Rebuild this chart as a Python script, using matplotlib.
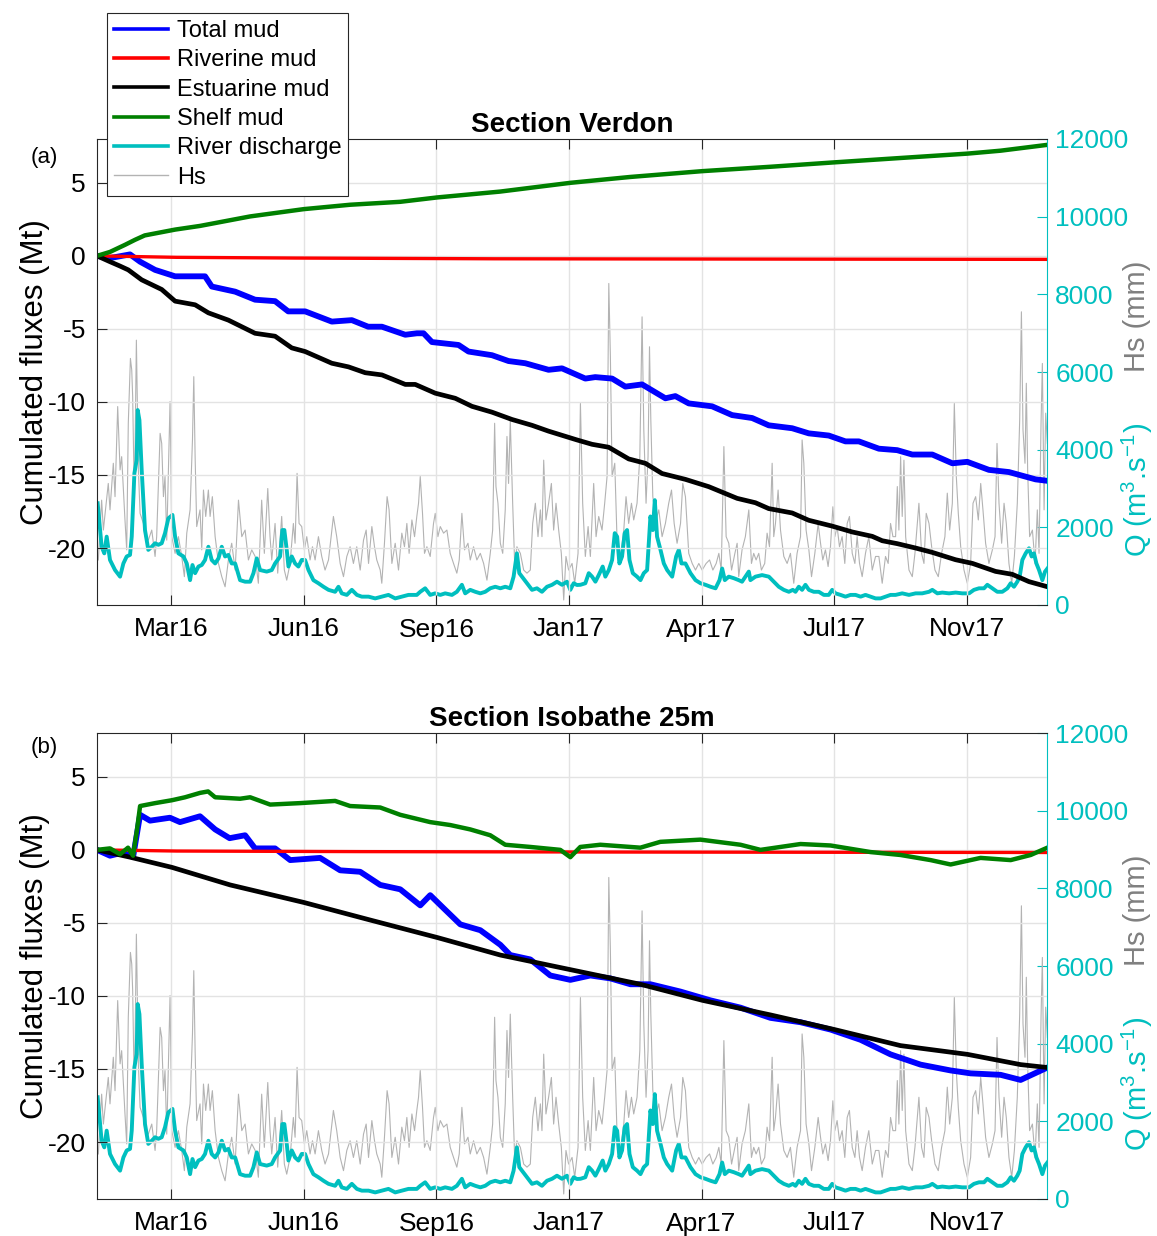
import numpy as np
import matplotlib
matplotlib.use("Agg")
import matplotlib.pyplot as plt
import matplotlib.dates as mdates
from matplotlib.lines import Line2D

plt.rcParams['font.family'] = ['Liberation Sans', 'DejaVu Sans']
plt.rcParams['mathtext.default'] = 'regular'
plt.rcParams['axes.unicode_minus'] = False

# ---------------- data (days since 2016-01-15) ----------------
START = np.datetime64('2016-01-15')
END_DAY = 716.5
TICK_DATES = ['2016-03-11', '2016-06-19', '2016-09-27', '2017-01-05',
              '2017-04-15', '2017-07-24', '2017-11-01']

# significant wave height (mm), shared by both panels
HS_DAY = [1.0, 3.5, 4.8, 8.5, 9.8, 12.3, 13.6, 15.6, 17.4, 18.6, 21.1, 22.4, 23.6, 25.2, 26.2, 26.9,
          28.2, 29.7, 31.2, 32.5, 35.0, 36.2, 38.7, 41.3, 43.8, 45.0, 47.6, 48.8, 50.1, 51.3, 52.6,
          55.1, 56.4, 58.9, 61.4, 63.9, 65.9, 67.7, 70.2, 72.0, 73.0, 74.0, 75.2, 77.7, 79.0, 80.3,
          82.0, 84.0, 85.3, 87.0, 89.1, 91.6, 94.1, 96.6, 99.1, 101.6, 104.2, 106.7, 109.2, 111.7,
          114.2, 116.7, 119.3,
          121.7, 124.2, 126.2, 128.8, 130.5, 131.8, 134.3, 136.3, 139.3, 141.3, 143.1, 145.6, 148.1,
          149.4, 150.9, 152.4, 154.4, 156.4, 158.2, 160.7, 162.5, 164.5, 167.0, 169.5, 172.0, 174.6,
          176.6, 178.3, 180.8, 183.4, 185.9, 188.4, 190.9, 193.4, 195.9, 198.5, 201.0, 203.0, 204.8,
          207.3, 209.3, 211.0, 213.6, 214.8, 216.8, 218.8, 220.3, 222.4, 224.9, 227.4, 229.9, 231.9,
          233.7, 235.4, 237.5, 239.5, 241.2,
          242.5, 243.8, 245.5, 247.0, 248.8, 251.3, 253.8, 255.1, 257.1, 258.9, 261.4, 263.9, 266.4,
          268.9, 271.4, 273.2, 275.2, 277.2, 279.8, 281.5, 284.0, 286.5, 289.1, 291.6, 294.1, 296.6,
          298.4, 299.9, 300.9, 302.4, 304.2, 306.0, 307.9, 309.2, 310.4, 311.7, 313.5, 315.0, 316.7,
          319.3, 321.8, 324.3, 326.8, 328.6, 330.6, 332.6, 334.4, 335.6, 336.9, 338.6, 340.6, 342.7,
          344.4, 346.2, 348.2, 350.2, 352.0, 353.7, 355.7, 358.3, 360.3,
          362.8, 364.6, 366.3, 368.3, 370.4, 372.1, 374.6, 376.4, 378.4, 380.9, 382.9, 384.7, 386.0,
          387.2, 388.5, 390.5, 392.3, 394.8, 397.3, 399.0, 401.0, 403.1, 404.8, 407.3, 409.4, 411.1,
          412.4, 414.1, 415.6, 416.7, 417.7, 419.2, 421.7, 423.7, 426.2, 428.7, 431.2, 433.3, 435.3,
          437.5, 440.1, 441.8, 443.8, 446.3, 448.9, 451.4, 453.9, 456.4, 459.4, 462.0, 464.5, 467.0,
          469.0, 470.8, 472.8, 474.5, 476.5, 478.6, 481.1, 482.8,
          484.0, 486.5, 489.0, 491.6, 493.6, 495.3, 497.1, 499.1, 501.1, 503.6, 505.4, 507.2, 509.2,
          510.4, 511.7, 513.7, 515.5, 518.0, 520.5, 523.0, 525.5, 528.0, 530.6, 531.8, 533.1, 534.8,
          536.9, 538.9, 541.4, 543.9, 545.7, 547.4, 549.4, 551.4, 553.2, 555.0, 556.5, 558.2, 560.0,
          562.0, 564.0, 565.8, 567.5, 569.6, 571.6, 573.3, 575.1, 577.1, 579.6, 582.1, 584.7, 587.2,
          589.7, 592.2, 594.7, 596.7, 598.5, 600.3,
          602.3, 603.6, 604.8, 606.1, 607.3, 608.6, 609.9, 612.4, 614.9, 616.9, 618.7, 619.9, 621.9,
          623.7, 625.4, 627.5, 629.5, 632.0, 634.5, 637.0, 639.5, 641.3, 643.1, 645.1, 646.6, 648.1,
          649.6, 651.4, 653.9, 656.4, 658.9, 660.7, 662.7, 664.7, 666.5, 668.2, 670.2, 672.7, 675.3,
          677.3, 678.8, 680.3, 682.3, 684.1, 685.8, 687.8, 689.9, 691.9, 694.1, 695.9, 697.2, 698.4,
          699.9, 700.9, 701.9, 703.4, 705.5, 707.5, 709.2, 710.5, 712.0, 713.0, 714.3, 715.5, 716.8]
HS_VAL = [1160, 2700, 1930, 3130, 2450, 3650, 2790, 5110, 3480, 3820, 2190, 1420, 4680, 6350, 6050, 5370,
          2620, 6820, 3480, 2360, 2100, 1760, 1670, 1930, 1250, 1760, 4420, 4160, 2790, 3310, 1670,
          5240, 1760, 1330, 1760, 1250, 730, 1850, 2450, 4250, 5880, 3820, 2020, 2450, 1420, 2960,
          2280, 2960, 2280, 2790, 1760, 1070, 730, 470, 1160, 1590, 900, 2700, 1760, 1930,
          1160, 1420, 1250,
          560, 2700, 1330, 3000, 1760, 1160, 2100, 820, 2280, 900, 640, 1070, 2100,
          1590, 3390, 2100, 2020, 1420, 1760, 1160, 1500, 1160, 1760, 1250, 900, 1160,
          1760, 2280, 1760, 1070, 730, 1250, 1500, 1070, 1500, 900, 1670, 1930, 1070,
          2020, 1500, 1160, 900, 560, 1590, 2790, 2450, 1070, 1590, 900, 1850, 1500,
          2100, 1330, 2190, 1760, 2280,
          2620, 3310, 2360, 1330, 1500, 1250, 2100, 2360, 1760, 2020, 1850, 1930, 1330,
          1070, 820, 1160, 2360, 1420, 1590, 1160, 1500, 1160, 1330, 1070, 640, 1330,
          1930, 4680, 3050, 2620, 1590, 1330, 2450, 4340, 3130, 4760, 2620, 1070, 1500,
          1330, 900, 820, 900, 2100, 2620, 1760, 2450, 1760, 3730, 2190, 2620, 3130,
          1930, 2620, 1930, 1330, 130, 1250, 900, 1070, 560,
          1330, 5190, 2620, 1250, 2020, 1250, 3130, 1760, 2280, 1930, 2620, 3310, 8280,
          6400, 3310, 3650, 1590, 1250, 1930, 2790, 2100, 2620, 2190, 2620, 3820, 7420,
          4510, 2620, 3820, 6650, 4760, 2790, 2190, 2450, 1760, 2100, 2620, 2960, 2100,
          1590, 2100, 3130, 2790, 1330, 1070, 900, 1070, 900, 1070, 1160, 900, 1070,
          1330, 900, 4080, 1760, 1590, 900, 1330, 1590,
          730, 1420, 1760, 2450, 1070, 1330, 1160, 1330, 900, 1070, 1850, 1500, 3650,
          1760, 2100, 2960, 1930, 1250, 1070, 1330, 560, 1330, 1760, 4250, 3650, 1930,
          1420, 730, 1330, 2100, 1590, 1160, 1420, 990, 1500, 2530, 1760, 2020, 1500,
          1760, 1070, 2100, 2280, 1330, 1070, 1760, 1070, 730, 1330, 1760, 900, 1250,
          1250, 560, 1250, 1070, 2100, 1760,
          1760, 3050, 1930, 3820, 2280, 3730, 1760, 900, 730, 1330, 2100, 2620, 1330,
          1070, 2360, 2100, 1500, 900, 730, 1330, 1760, 2880, 1930, 2620, 5190, 3310,
          2360, 1500, 900, 560, 1070, 2620, 2790, 2190, 3130, 2450, 1590, 1070, 1420,
          1760, 4160, 2620, 1590, 2620, 2100, 1070, 560, 1250, 2620, 4760, 7550, 4510,
          3650, 5710, 3480, 1760, 1930, 1070, 2450, 1330, 4680, 6220, 2450, 4940, 4160]

# river discharge (m3/s), shared by both panels
Q_DAY = [0.5, 3.5, 5.5, 7.3, 9.8, 13.6, 17.4, 19.9, 22.4, 24.9, 26.2, 28.2, 29.9, 30.7, 32.0, 33.7,
         36.2, 38.7, 41.3, 43.8, 46.3, 48.8, 51.3, 53.8, 56.9, 58.9, 61.4, 65.2, 67.7, 70.2, 72.0,
         74.0, 76.5, 79.0, 81.5, 84.0, 86.5, 89.1, 91.6, 94.1, 96.6, 99.1, 101.6, 104.2, 107.9,
         111.7, 115.5, 118.0, 120.5, 123.0, 128.0, 131.8, 134.3, 138.1, 139.8, 141.3, 143.1, 144.4,
         146.9, 149.4, 151.9, 154.4, 156.9, 159.5, 163.2, 167.0, 170.8, 174.6, 179.6, 182.1, 184.6,
         188.4, 192.2, 196.0, 199.7, 204.8, 209.8, 214.8, 219.8, 224.9, 229.9, 234.9, 241.2,
         243.8, 247.5, 251.3, 255.1, 258.9, 262.6, 267.7, 271.4, 275.2, 277.7, 281.5, 285.3, 289.1,
         292.8, 296.6, 300.4, 304.2, 307.9, 311.7, 314.2, 316.7, 318.5, 320.5, 324.3, 328.1, 331.8,
         335.6, 339.4, 343.2, 346.9, 350.7, 354.5, 357.0, 359.5, 362.0, 364.6, 368.3, 370.9, 373.4,
         375.9, 378.4, 381.4, 383.4, 386.0, 388.5, 390.5, 392.3, 394.0, 396.0, 398.0, 399.8, 401.6,
         404.1, 407.3, 409.9, 412.4, 414.9, 417.4, 419.2, 420.7, 422.4, 425.0, 427.5, 430.0, 433.8,
         436.8, 438.8, 440.8, 443.8, 447.6, 451.4, 455.2, 458.9, 462.7, 466.5, 469.5, 471.5, 473.5,
         476.5, 480.3, 484.0, 486.5, 489.0, 491.6, 492.8, 496.6, 501.6, 506.7, 510.4, 514.2, 518.0,
         521.8, 524.8, 526.8, 529.3, 531.8, 534.3, 536.9, 540.6, 544.4, 548.2, 551.9, 554.5, 557.0,
         560.8, 564.5, 568.3, 572.1, 575.9, 579.6, 583.4, 587.2, 591.0, 594.7, 598.5, 602.3, 607.3,
         612.4, 617.4, 622.4, 627.5, 630.0, 633.8, 637.5, 642.6, 647.6, 652.6, 657.7, 661.4, 665.2,
         669.0, 671.5, 675.3, 679.0, 682.8, 686.6, 689.1, 691.6, 694.1, 695.9, 697.9, 700.4, 702.9,
         704.9, 706.7, 708.5, 710.5, 713.0, 715.0, 716.8]
Q_VAL = [2620, 1500, 1330, 1760, 1160, 900, 730, 1070, 1250, 1290, 1760, 3390, 3730, 5020, 4760, 3480,
         1930, 1420, 1500, 1590, 1550, 1590, 1850, 2230, 2320, 1760, 1330, 1250, 1070, 640, 1030,
         820, 990, 1030, 1160, 1500, 1160, 1070, 1200, 1500, 1250, 1290, 1070, 1070, 640,
         600, 600, 820, 1200, 900, 860, 900, 1070, 1250, 1930, 1930, 1420, 990,
         1250, 1070, 990, 1160, 1160, 900, 640, 560, 470, 390, 340, 470, 300,
         260, 390, 260, 215, 215, 170, 215, 260, 170, 215, 260, 260,
         340, 430, 260, 300, 260, 300, 260, 340, 520, 300, 390, 340, 300,
         340, 430, 470, 430, 470, 430, 730, 1330, 820, 730, 560, 390, 430,
         340, 470, 520, 600, 520, 600, 390, 560, 515, 520, 560, 820, 730,
         600, 770, 990, 730, 900, 1160, 1850, 1760, 1070, 1250, 1850, 1930, 1160,
         820, 730, 640, 820, 900, 2280, 1930, 2700, 1760, 1420, 1070, 900, 730,
         1250, 1420, 1070, 1070, 820, 640, 560, 520, 470, 430, 640, 940, 640,
         730, 690, 640, 600, 730, 860, 640, 730, 770, 730, 600, 470, 390,
         340, 390, 340, 470, 390, 520, 390, 340, 340, 260, 260, 390, 300,
         260, 215, 260, 260, 215, 260, 215, 170, 170, 215, 260, 260, 300,
         260, 300, 300, 340, 390, 300, 320, 300, 320, 300, 300, 390, 430,
         430, 520, 430, 340, 340, 430, 560, 470, 600, 730, 1160, 1330, 1460,
         1250, 1330, 1070, 900, 640, 860, 940]

# ---- panel (a) Section Verdon, cumulated fluxes (Mt) ----
A_TOTAL_DAY = [0, 9.8, 24.9, 32.5, 43.8, 58.9, 71.5, 81.5, 86.6, 104.2, 119.2, 134.3, 144.2, 157.0,
               177.1, 192.2, 204.5, 214.9, 232.5, 241.3, 246.3, 252.6, 272.7, 280.2, 297.9, 310.4,
               323.0, 340.6, 350.7, 362.0, 368.3, 375.8, 388.5, 398.5, 411.1, 428.7, 436.2, 446.3,
               463.9, 479.0, 494.1, 506.6, 524.3, 536.8, 551.9, 564.5, 574.6, 589.7, 603.5, 614.9,
               630.0, 645.1, 656.4, 672.7, 687.8, 707.9, 716.8]
A_TOTAL = [0, -0.15, 0.1, -0.4, -0.96, -1.4, -1.4, -1.4, -2.1, -2.45, -3.0, -3.1, -3.8, -3.8,
           -4.5, -4.4, -4.85, -4.85, -5.4, -5.3, -5.3, -5.9, -6.1, -6.55, -6.8, -7.2,
           -7.35, -7.8, -7.7, -8.15, -8.4, -8.3, -8.4, -8.95, -8.8, -9.75, -9.6, -10.1,
           -10.3, -10.9, -11.1, -11.6, -11.8, -12.15, -12.3, -12.7, -12.7, -13.2, -13.3, -13.6,
           -13.6, -14.2, -14.1, -14.65, -14.8, -15.3, -15.4]
A_RIVER_DAY = [0, 60, 150, 300, 500, 716.8]
A_RIVER = [0, -0.1, -0.15, -0.2, -0.22, -0.24]
A_ESTU_DAY = [0, 9.8, 17.4, 23.6, 33.7, 48.8, 58.9, 74.0, 84.0, 99.1, 119.2, 134.3, 146.9, 157.0,
              177.1, 189.7, 202.3, 214.9, 232.5, 240.0, 255.1, 270.2, 282.8, 297.9, 313.0, 328.1,
              340.6, 362.0, 373.4, 385.9, 401.0, 413.6, 426.2, 443.8, 461.4, 482.8, 496.6, 506.6,
              524.3, 536.8, 554.5, 569.6, 584.7, 592.2, 603.5, 617.4, 630.0, 647.5, 660.2, 677.7,
              690.3, 702.9, 716.8]
A_ESTU = [0, -0.4, -0.7, -0.96, -1.64, -2.3, -3.1, -3.35, -3.9, -4.4, -5.3, -5.5, -6.3, -6.55,
          -7.35, -7.6, -8.0, -8.15, -8.8, -8.8, -9.4, -9.75, -10.3, -10.7, -11.2, -11.6,
          -12.0, -12.6, -12.9, -13.1, -13.9, -14.2, -14.9, -15.3, -15.8, -16.6, -16.9, -17.3,
          -17.6, -18.1, -18.5, -18.9, -19.2, -19.5, -19.7, -20.0, -20.3, -20.8, -21.05, -21.6,
          -21.8, -22.3, -22.65]
A_SHELF_DAY = [0, 9.8, 21.0, 28.7, 36.0, 47.5, 59.0, 77.7, 115.5, 156.0, 191.0, 228.7, 256.6, 304.0,
               357.0, 402.0, 456.6, 508.0, 556.0, 606.0, 656.6, 681.5, 716.8]
A_SHELF = [0, 0.27, 0.75, 1.1, 1.4, 1.6, 1.8, 2.05, 2.7, 3.2, 3.5, 3.7, 4.0, 4.4,
           5.0, 5.4, 5.8, 6.1, 6.4, 6.7, 7.0, 7.2, 7.6]

# ---- panel (b) Section Isobathe 25m ----
B_TOTAL_DAY = [0, 9.8, 21.0, 27.2, 32.5, 40.0, 55.0, 62.6, 77.7, 89.1, 100.0, 111.7, 119.2, 134.3,
               145.7, 168.3, 183.4, 198.5, 213.6, 228.7, 243.8, 251.3, 262.6, 274.0, 289.1, 304.2,
               311.7, 326.8, 341.9, 357.0, 372.1, 387.2, 402.3, 417.4, 440.0, 462.6, 485.3, 507.9,
               530.6, 553.2, 575.8, 598.5, 621.1, 643.8, 658.9, 681.5, 696.6, 716.8]
B_TOTAL = [0, -0.4, -0.15, -0.5, 2.4, 2.0, 2.2, 1.9, 2.3, 1.4, 0.8, 1.0, 0.1, 0.1,
           -0.7, -0.55, -1.4, -1.5, -2.4, -2.7, -3.8, -3.1, -4.1, -5.1, -5.5, -6.5,
           -7.2, -7.5, -8.6, -8.9, -8.6, -8.8, -9.2, -9.2, -9.7, -10.3, -10.8, -11.5,
           -11.8, -12.3, -13.0, -14.0, -14.7, -15.1, -15.3, -15.4, -15.75, -14.9]
B_RIVER_DAY = [0, 60, 200, 400, 716.8]
B_RIVER = [0, -0.08, -0.12, -0.15, -0.18]
B_ESTU_DAY = [0, 24.9, 56.6, 100.4, 156.0, 205.9, 256.6, 304.2, 357.0, 409.8, 456.6, 508.0, 556.2,
              606.0, 656.6, 696.6, 716.8]
B_ESTU = [0, -0.5, -1.2, -2.4, -3.6, -4.8, -6.0, -7.2, -8.2, -9.2, -10.3, -11.3, -12.3,
          -13.4, -14.0, -14.7, -14.9]
B_SHELF_DAY = [0, 9.8, 17.4, 23.4, 27.2, 30.2, 32.5, 43.8, 56.6, 66.4, 77.7, 83.8, 89.1, 107.9,
               115.5, 130.6, 153.2, 179.6, 190.9, 213.6, 228.7, 251.3, 266.4, 281.5, 296.6, 307.9,
               326.8, 349.4, 357.0, 364.5, 379.6, 409.8, 424.9, 455.1, 485.3, 500.4, 530.6, 553.2,
               583.4, 606.0, 628.7, 643.8, 666.4, 689.1, 704.2, 716.8]
B_SHELF = [0, 0.1, -0.3, 0.15, -0.4, 1.4, 3.0, 3.2, 3.4, 3.6, 3.9, 4.0, 3.6, 3.5,
           3.6, 3.1, 3.2, 3.35, 3.0, 2.9, 2.4, 1.9, 1.7, 1.4, 1.0, 0.35,
           0.2, 0.0, -0.5, 0.2, 0.35, 0.15, 0.55, 0.7, 0.35, 0.0, 0.4, 0.3,
           -0.15, -0.35, -0.7, -1.0, -0.55, -0.7, -0.35, 0.15]

BLUE, RED, BLACK, GREEN = '#0000FF', '#FF0000', '#000000', '#008000'
CYAN, GREY = '#00BFBF', '#B3B3B3'
FRAME = '#262626'


def to_dates(days):
    mins = np.round(np.asarray(days, dtype=float) * 1440).astype(np.int64)
    return START + mins.astype('timedelta64[m]')


fig = plt.figure(figsize=(11.57, 12.36), dpi=100)


def panel(rect, title, tag, tag_y, total, river, estu, shelf):
    ax = fig.add_axes(rect)
    axr = ax.twinx()
    ax.set_zorder(axr.get_zorder() + 1)
    ax.patch.set_visible(False)

    # right axis: Hs and river discharge
    axr.plot(to_dates(HS_DAY), HS_VAL, color=GREY, lw=0.8)
    axr.plot(to_dates(Q_DAY), Q_VAL, color=CYAN, lw=2.8)
    axr.set_ylim(0, 12000)
    axr.set_yticks(range(0, 12001, 2000))
    axr.tick_params(axis='y', direction='in', colors=CYAN, labelsize=19, length=7, pad=6)
    for s in ['left', 'top', 'bottom']:
        axr.spines[s].set_visible(False)
    axr.spines['right'].set_color(CYAN)
    axr.text(1.0947, 0.62, 'Hs (mm)', transform=axr.transAxes, rotation=90,
             ha='center', va='center', fontsize=21, color='#808080')
    axr.text(1.0947, 0.247, 'Q (m$^3$.s$^{-1}$)', transform=axr.transAxes, rotation=90,
             ha='center', va='center', fontsize=21, color=CYAN)

    # left axis: cumulated fluxes
    ax.plot(to_dates(total[0]), total[1], color=BLUE, lw=4.2)
    ax.plot(to_dates(river[0]), river[1], color=RED, lw=2.4)
    ax.plot(to_dates(estu[0]), estu[1], color=BLACK, lw=3.4)
    ax.plot(to_dates(shelf[0]), shelf[1], color=GREEN, lw=3.2)
    ax.set_ylim(-23.9, 8.0)
    ax.set_yticks([-20, -15, -10, -5, 0, 5])
    ax.set_xlim(to_dates([0])[0], to_dates([END_DAY])[0])
    ax.set_xticks(np.array(TICK_DATES, dtype='datetime64[D]'))
    ax.xaxis.set_major_formatter(mdates.DateFormatter('%b%y'))
    ax.tick_params(direction='in', top=True, labelsize=19, length=7, colors=FRAME,
                   labelcolor='black')
    ax.tick_params(axis='y', pad=8)
    ax.tick_params(axis='x', pad=9)
    ax.spines['right'].set_visible(False)
    for s in ['left', 'top', 'bottom']:
        ax.spines[s].set_color(FRAME)
    ax.grid(True, color='#E3E3E3', lw=1)
    ax.set_axisbelow(True)
    ax.set_ylabel('Cumulated fluxes (Mt)', fontsize=22.5)
    ax.yaxis.set_label_coords(-0.05, 0.5)
    ax.set_title(title, fontsize=20, fontweight='bold', pad=5)
    fig.text(44 / 1157, tag_y, tag, ha='center', va='center', fontsize=16)
    return ax


panel([97 / 1157, 1 - 605 / 1236, 950 / 1157, 466 / 1236], 'Section Verdon', '(a)',
      1 - 157 / 1236, (A_TOTAL_DAY, A_TOTAL), (A_RIVER_DAY, A_RIVER),
      (A_ESTU_DAY, A_ESTU), (A_SHELF_DAY, A_SHELF))
panel([97 / 1157, 1 - 1199 / 1236, 950 / 1157, 466 / 1236], 'Section Isobathe 25m', '(b)',
      1 - 748 / 1236, (B_TOTAL_DAY, B_TOTAL), (B_RIVER_DAY, B_RIVER),
      (B_ESTU_DAY, B_ESTU), (B_SHELF_DAY, B_SHELF))

handles = [Line2D([], [], color=BLUE, lw=2.6), Line2D([], [], color=RED, lw=2.6),
           Line2D([], [], color=BLACK, lw=2.6), Line2D([], [], color=GREEN, lw=2.6),
           Line2D([], [], color=CYAN, lw=2.6), Line2D([], [], color=GREY, lw=1.0)]
labels = ['Total mud', 'Riverine mud', 'Estuarine mud', 'Shelf mud', 'River discharge', 'Hs']
leg = fig.legend(handles, labels, loc='upper left', bbox_to_anchor=(107 / 1157, 1 - 13 / 1236),
                 fontsize=17, frameon=True, fancybox=False, edgecolor=FRAME, framealpha=1,
                 borderaxespad=0, borderpad=0.3, handlelength=2.3, handletextpad=0.35,
                 labelspacing=0.31)
leg.get_frame().set_linewidth(0.8)

fig.savefig('out.png', dpi=100)
